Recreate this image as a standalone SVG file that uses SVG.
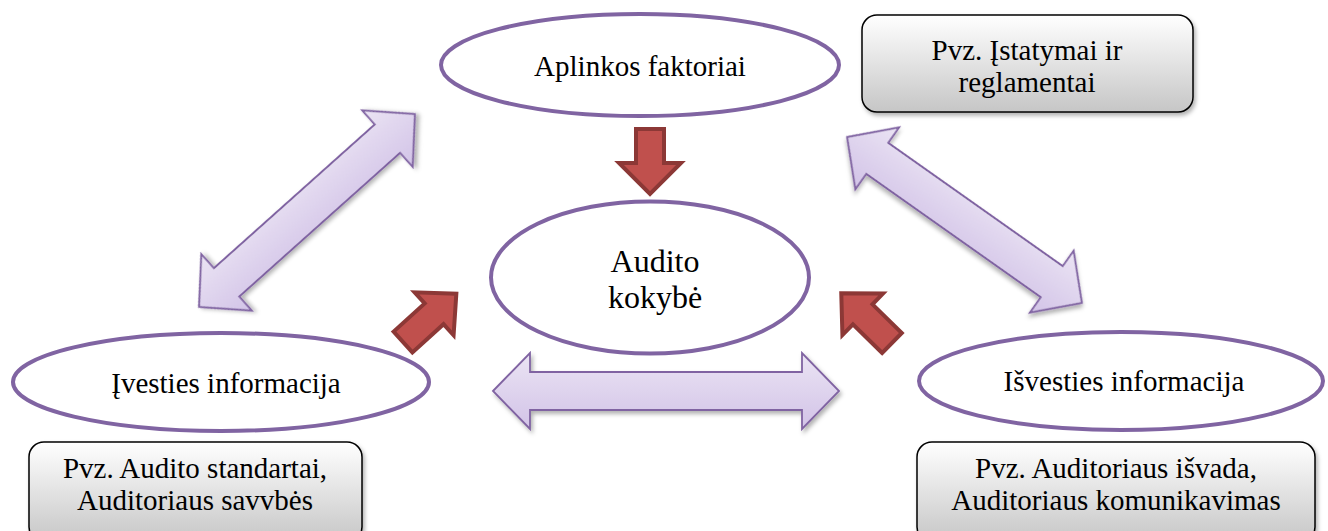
<svg xmlns="http://www.w3.org/2000/svg" width="1328" height="531" viewBox="0 0 1328 531">
<style>
.ell{fill:#fff;stroke:#8064A2;stroke-width:4}
.box{fill:url(#gBox);stroke:#000;stroke-width:1.5;filter:url(#sh)}
.dbl{fill:url(#gPur);stroke:#8064A2;stroke-width:1.8;filter:url(#sh)}
.red{fill:#C0504D;stroke:#8C3836;stroke-width:4;stroke-linejoin:miter}
.t{font-size:29px;fill:#000;text-anchor:middle}
.big{font-size:32px}
</style>
<defs>
<linearGradient id="gBox" x1="0" y1="0" x2="0" y2="1">
<stop offset="0" stop-color="#ffffff"/>
<stop offset="1" stop-color="#c6c6c6"/>
</linearGradient>
<linearGradient id="gPur" x1="0" y1="0" x2="0" y2="1">
<stop offset="0" stop-color="#ebe4f4"/>
<stop offset="1" stop-color="#d2c3e7"/>
</linearGradient>
<filter id="sh" x="-10%" y="-10%" width="125%" height="130%">
<feDropShadow dx="2" dy="3" stdDeviation="2" flood-color="#000" flood-opacity="0.3"/>
</filter>
</defs>
<g id="connectors">
<path class="dbl" d="M493,391 L530,353 L530,372 L802,372 L802,353 L839,391 L802,429 L802,410 L530,410 L530,429 Z"/>
<g transform="translate(307,210.5) rotate(-41.78)"><path class="dbl" d="M-144.8,0 L-107.8,-38 L-107.8,-19 L107.8,-19 L107.8,-38 L144.8,0 L107.8,38 L107.8,19 L-107.8,19 L-107.8,38 Z"/></g>
<g transform="translate(964.5,220) rotate(35.24)"><path class="dbl" d="M-143.8,0 L-106.8,-38 L-106.8,-19 L106.8,-19 L106.8,-38 L143.8,0 L106.8,38 L106.8,19 L-106.8,19 L-106.8,38 Z"/></g>
<g transform="translate(650,129) rotate(90)"><path class="red" d="M0,-14 L34,-14 L34,-31 L65,0 L34,31 L34,14 L0,14 Z"/></g>
<g transform="translate(403,342) rotate(-42.2)"><path class="red" d="M0,-14 L42,-14 L42,-29 L72,0 L42,29 L42,14 L0,14 Z"/></g>
<g transform="translate(892,343) rotate(224.4)"><path class="red" d="M0,-14 L41,-14 L41,-29 L71,0 L41,29 L41,14 L0,14 Z"/></g>
</g>
<g font-family="'Liberation Serif', 'Times New Roman', 'DejaVu Serif', serif">
<g id="aplinkos">
<ellipse class="ell" cx="640" cy="65" rx="199" ry="51"/>
<text class="t" x="640" y="76">Aplinkos faktoriai</text>
</g>
<g id="audito">
<ellipse class="ell" cx="650" cy="277.5" rx="159" ry="76"/>
<text class="t big" x="655" y="272">Audito</text>
<text class="t big" x="655" y="308">kokybė</text>
</g>
<g id="ivesties">
<ellipse class="ell" cx="221" cy="382" rx="208" ry="49"/>
<text class="t" x="226" y="393">Įvesties informacija</text>
</g>
<g id="isvesties">
<ellipse class="ell" cx="1121" cy="381" rx="202" ry="49"/>
<text class="t" x="1124" y="391">Išvesties informacija</text>
</g>
<g id="istatymai">
<rect class="box" x="862" y="15" width="331" height="97" rx="15"/>
<text class="t" x="1027" y="60">Pvz. Įstatymai ir</text>
<text class="t" x="1027" y="92">reglamentai</text>
</g>
<g id="standartai">
<rect class="box" x="29" y="442" width="333" height="100" rx="15"/>
<text class="t" x="195" y="478">Pvz. Audito standartai,</text>
<text class="t" x="195" y="510">Auditoriaus savvbės</text>
</g>
<g id="isvada">
<rect class="box" x="917" y="442" width="398" height="100" rx="15"/>
<text class="t" x="1116" y="478">Pvz. Auditoriaus išvada,</text>
<text class="t" x="1116" y="510">Auditoriaus komunikavimas</text>
</g>
</g>
</svg>
